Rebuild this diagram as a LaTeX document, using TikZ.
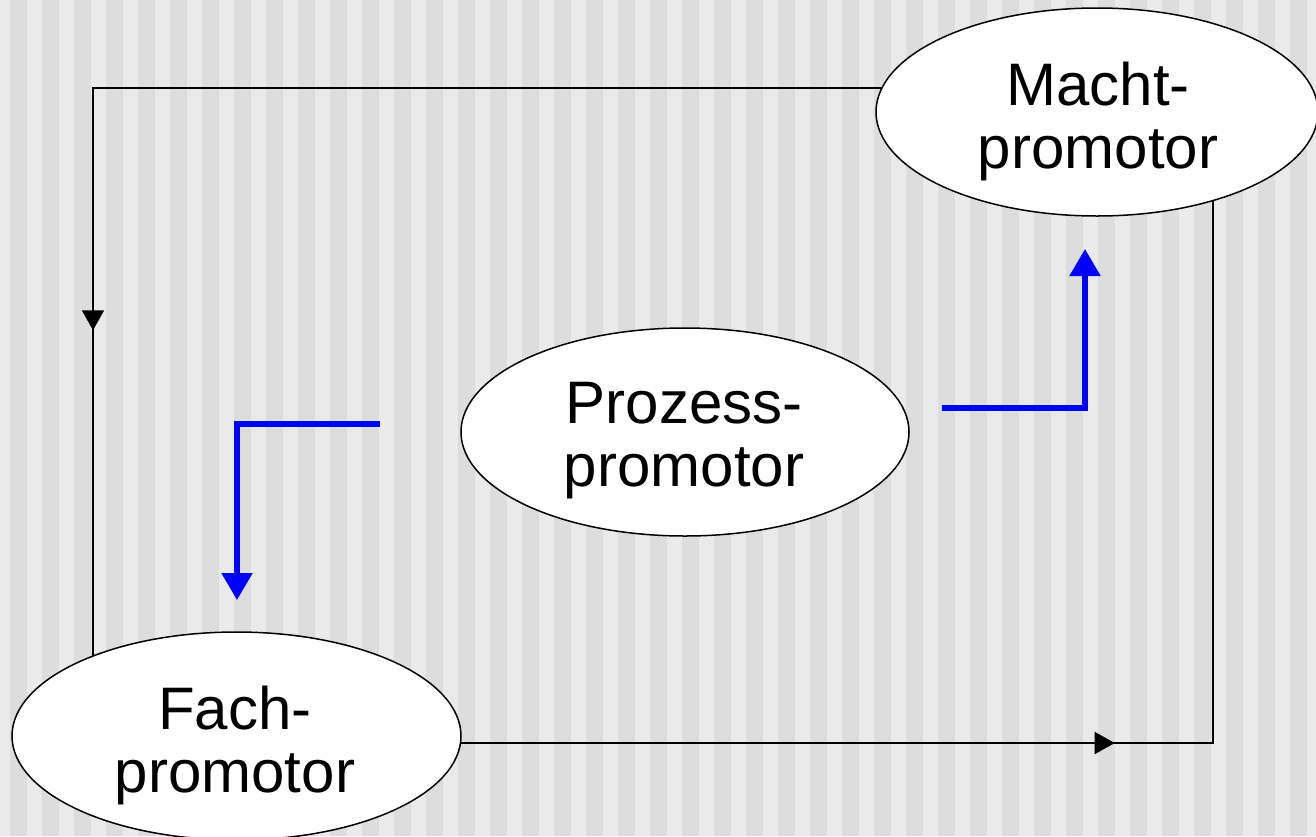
\documentclass[tikz,border=0pt]{standalone}
\usepackage{fontspec}
\setmainfont{Liberation Sans}
\usetikzlibrary{arrows.meta,calc,decorations.markings,shapes.geometric}
\definecolor{bglight}{HTML}{EAEAEA}
\definecolor{bgdark}{HTML}{DDDDDD}
\definecolor{arrowblue}{HTML}{0000FF}
\begin{document}
\begin{tikzpicture}[x=0.5pt,y=-0.5pt,
  ell/.style={ellipse,draw=black,line width=0.75pt,fill=white,inner sep=0pt,outer sep=0pt},
  txt/.style={align=center,inner sep=0pt,font=\fontsize{30}{31.5}\selectfont},
  loopline/.style={draw=black,line width=0.75pt},
  blueline/.style={draw=arrowblue,line width=2.6pt,-{Triangle[length=13.5pt,width=15pt]}}]
\useasboundingbox (0,0) rectangle (1316,836);
\fill[bglight] (0,0) rectangle (1316,836);
\foreach \i in {0,...,41} \fill[bgdark] ({10+32*\i},0) rectangle ++(17,836);
% nodes
\node[ell,minimum width=221pt,minimum height=104pt] (macht) at (1097,112) {};
\node[ell,minimum width=224pt,minimum height=104pt] (prozess) at (685,432) {};
\node[ell,minimum width=224.5pt,minimum height=104pt] (fach) at (236.5,736) {};
\node[txt] (machttxt) at (1098,121) {Macht-\\promotor};
\node[txt] (prozesstxt) at (684,441) {Prozess-\\promotor};
\node[txt] (fachtxt) at (235,745) {Fach-\\promotor};
% black loop
\path[loopline,postaction={decorate},decoration={markings,
  mark=at position 0.76 with {\arrow{Triangle[length=10pt,width=11pt]}}}]
  ($(macht.center)+(-215,-24)$) -| ($(fach.center)+(-143.5,-80)$);
\path[loopline,postaction={decorate},decoration={markings,
  mark=at position 0.505 with {\arrow{Triangle[length=10pt,width=11pt]}}}]
  ($(fach.center)+(224.5,7)$) -| ($(macht.center)+(116,88.5)$);
% blue arrows
\draw[blueline] ($(prozess.west)+(-81,-8)$) -| ($(fach.north)+(0.5,-32)$);
\draw[blueline] ($(prozess.east)+(33,-24)$) -| ($(macht.south)+(-12,33)$);
\end{tikzpicture}
\end{document}
